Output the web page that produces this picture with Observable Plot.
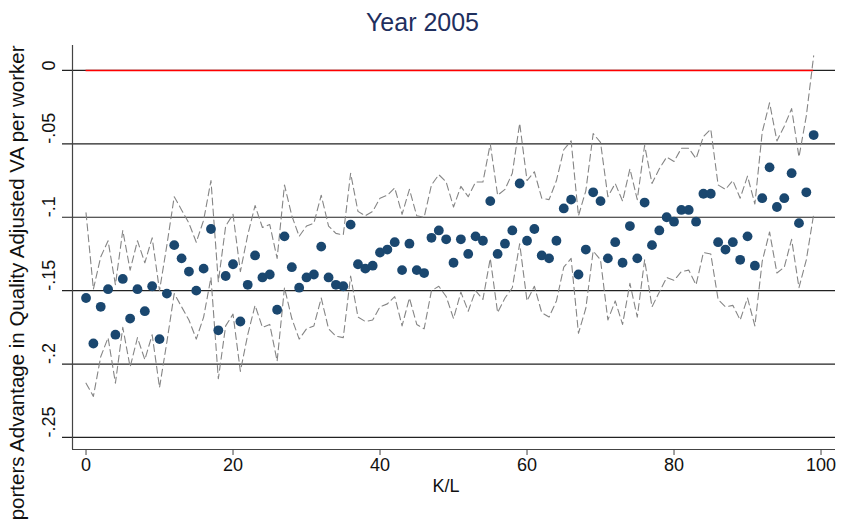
<!DOCTYPE html>
<html>
<head>
<meta charset="utf-8">
<script src="https://cdn.jsdelivr.net/npm/d3@7"></script>
<script src="https://cdn.jsdelivr.net/npm/@observablehq/plot@0.6"></script>
<style>
  body { margin: 0; background: white; }
  #title { font: 25px "Liberation Sans", Arial, sans-serif; height: 40px; line-height: 44px; text-align: center; color: #1f2f5e; overflow: visible; }
</style>
</head>
<body>
<div id="title">Year 2005</div>
<div id="chart"></div>
<script>
// K/L percentile
const kl = [0,1,2,3,4,5,6,7,8,9,10,11,12,13,14,15,16,17,18,19,
  20,21,22,23,24,25,26,27,28,29,30,31,32,33,34,35,36,37,38,39,
  40,41,42,43,44,45,46,47,48,49,50,51,52,53,54,55,56,57,58,59,
  60,61,62,63,64,65,66,67,68,69,70,71,72,73,74,75,76,77,78,79,
  80,81,82,83,84,85,86,87,88,89,90,91,92,93,94,95,96,97,98,99];

// point estimates
const est = [-0.155,-0.186,-0.161,-0.149,-0.180,-0.142,-0.169,-0.149,-0.164,-0.147,
  -0.183,-0.152,-0.119,-0.128,-0.137,-0.150,-0.135,-0.108,-0.177,-0.140,
  -0.132,-0.171,-0.146,-0.126,-0.141,-0.139,-0.163,-0.113,-0.134,-0.148,
  -0.141,-0.139,-0.120,-0.141,-0.146,-0.147,-0.105,-0.132,-0.135,-0.133,
  -0.124,-0.122,-0.117,-0.136,-0.118,-0.136,-0.138,-0.114,-0.109,-0.115,
  -0.131,-0.115,-0.125,-0.113,-0.116,-0.089,-0.125,-0.118,-0.109,-0.077,
  -0.116,-0.108,-0.126,-0.128,-0.116,-0.094,-0.088,-0.139,-0.122,-0.083,
  -0.089,-0.128,-0.117,-0.131,-0.106,-0.128,-0.090,-0.119,-0.109,-0.100,
  -0.103,-0.095,-0.095,-0.103,-0.084,-0.084,-0.117,-0.122,-0.117,-0.129,
  -0.113,-0.133,-0.087,-0.066,-0.093,-0.087,-0.070,-0.104,-0.083,-0.044];

// upper confidence bound
const upper = [-0.097,-0.149,-0.127,-0.116,-0.146,-0.109,-0.136,-0.116,-0.131,-0.114,
  -0.150,-0.119,-0.086,-0.095,-0.104,-0.117,-0.102,-0.075,-0.144,-0.106,
  -0.098,-0.137,-0.112,-0.092,-0.107,-0.105,-0.128,-0.078,-0.099,-0.113,
  -0.106,-0.104,-0.085,-0.106,-0.111,-0.112,-0.070,-0.096,-0.099,-0.096,
  -0.087,-0.085,-0.080,-0.098,-0.081,-0.099,-0.100,-0.078,-0.071,-0.076,
  -0.093,-0.079,-0.086,-0.076,-0.076,-0.050,-0.085,-0.081,-0.070,-0.036,
  -0.075,-0.069,-0.087,-0.088,-0.075,-0.054,-0.048,-0.099,-0.082,-0.043,
  -0.049,-0.086,-0.077,-0.089,-0.067,-0.088,-0.051,-0.077,-0.067,-0.059,
  -0.062,-0.053,-0.053,-0.060,-0.045,-0.040,-0.078,-0.081,-0.075,-0.087,
  -0.072,-0.091,-0.042,-0.022,-0.048,-0.038,-0.026,-0.059,-0.031,0.010];

// lower confidence bound
const lower = [-0.213,-0.222,-0.195,-0.182,-0.213,-0.175,-0.202,-0.182,-0.197,-0.180,
  -0.216,-0.185,-0.152,-0.161,-0.170,-0.183,-0.168,-0.141,-0.210,-0.174,
  -0.166,-0.205,-0.180,-0.160,-0.175,-0.173,-0.198,-0.148,-0.169,-0.183,
  -0.176,-0.174,-0.155,-0.176,-0.181,-0.182,-0.140,-0.168,-0.171,-0.170,
  -0.161,-0.159,-0.154,-0.174,-0.155,-0.173,-0.176,-0.150,-0.147,-0.154,
  -0.169,-0.151,-0.164,-0.150,-0.156,-0.128,-0.165,-0.155,-0.148,-0.118,
  -0.157,-0.147,-0.165,-0.168,-0.157,-0.134,-0.128,-0.179,-0.162,-0.123,
  -0.129,-0.170,-0.157,-0.173,-0.145,-0.168,-0.129,-0.161,-0.151,-0.141,
  -0.143,-0.137,-0.136,-0.146,-0.124,-0.125,-0.156,-0.161,-0.160,-0.170,
  -0.155,-0.174,-0.130,-0.110,-0.138,-0.134,-0.115,-0.148,-0.129,-0.098];

const yTicks = [0, -0.05, -0.1, -0.15, -0.2, -0.25];
const yTickLabels = ["0", "-.05", "-.1", "-.15", "-.2", "-.25"];
const xTicks = [0, 20, 40, 60, 80, 100];
const yTitle = "Exporters Advantage in Quality Adjusted VA per worker";
const xTitle = "K/L";

const data = kl.map((k, i) => ({kl: k, est: est[i], upper: upper[i], lower: lower[i]}));
const xDomain = [-1.84, 101.97];
const yDomain = [-0.2582, 0.017];

const chart = Plot.plot({
  width: 845,
  height: 480,
  marginTop: 5,
  marginBottom: 71,
  marginLeft: 72,
  marginRight: 10,
  x: {domain: xDomain},
  y: {domain: yDomain, axis: null},
  style: {fontFamily: "'Liberation Sans', Arial, sans-serif", fontSize: "18px", color: "#111", background: "white"},
  marks: [
    Plot.ruleY(yTicks, {stroke: "#222", strokeWidth: 1.2, insetLeft: -10}),
    Plot.ruleX([xDomain[0]], {stroke: "#444", strokeWidth: 1.2}),
    Plot.ruleY([yDomain[0]], {stroke: "#444", strokeWidth: 1.2}),
    Plot.ruleY([0], {x1: d3.min(kl), x2: d3.max(kl), stroke: "#ff0000", strokeWidth: 1.6}),
    Plot.line(data, {x: "kl", y: "upper", stroke: "#858585", strokeWidth: 1.1, strokeDasharray: "7,4"}),
    Plot.line(data, {x: "kl", y: "lower", stroke: "#858585", strokeWidth: 1.1, strokeDasharray: "7,4"}),
    Plot.dot(data, {x: "kl", y: "est", r: 4.9, fill: "#1a476f", stroke: null}),
    Plot.axisX({ticks: xTicks, tickSize: 6, tickPadding: 3, fontSize: 18, label: null, stroke: "#444"}),
    Plot.text(yTicks, {y: d => d, text: (d, i) => yTickLabels[i], frameAnchor: "left", dx: -23, rotate: -90, fontSize: 18}),
    Plot.text([yTitle], {frameAnchor: "top-left", dx: -55, rotate: -90, textAnchor: "end", lineAnchor: "middle", fontSize: 20.5}),
    Plot.text([xTitle], {frameAnchor: "bottom", dx: -8, dy: 37, lineAnchor: "middle", fontSize: 18})
  ]
});
document.getElementById("chart").append(chart);
</script>
</body>
</html>
